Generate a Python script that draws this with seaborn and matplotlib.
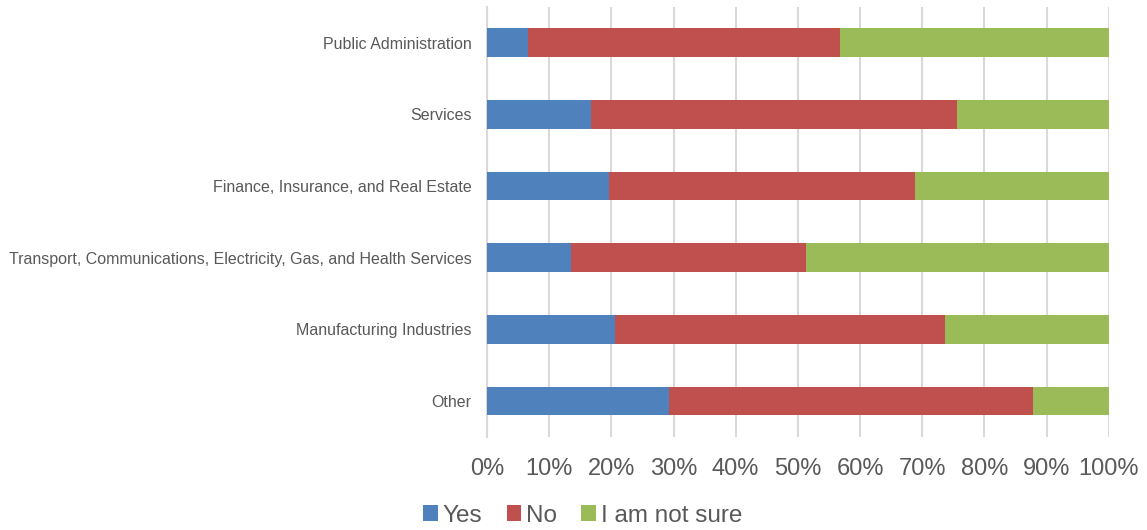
import matplotlib
matplotlib.use("Agg")
import matplotlib.pyplot as plt
import seaborn as sns
import pandas as pd
import numpy as np
from matplotlib.patches import Patch

sectors = [
    "Public Administration",
    "Services",
    "Finance, Insurance, and Real Estate",
    "Transport, Communications, Electricity, Gas, and Health Services",
    "Manufacturing Industries",
    "Other",
]
yes = [6.6, 16.8, 19.6, 13.5, 20.6, 29.3]
no = [50.1, 58.8, 49.3, 37.8, 53.0, 58.6]
not_sure = [43.3, 24.4, 31.1, 48.7, 26.4, 12.1]

series_names = ["Yes", "No", "I am not sure"]
colors = ["#4F81BD", "#C0504D", "#9BBB59"]

df = pd.DataFrame({"sector": sectors, "Yes": yes, "No": no, "I am not sure": not_sure})
df["cum_yes"] = df["Yes"]
df["cum_no"] = df["Yes"] + df["No"]
df["cum_all"] = df["cum_no"] + df["I am not sure"]

sns.set_style("white")
plt.rcParams["font.family"] = ["Liberation Sans", "DejaVu Sans"]

fig = plt.figure(figsize=(11.47, 5.30), dpi=100)
ax = fig.add_axes([0.4246, 0.1755, 0.5420, 0.8113])

# stacked bars drawn back to front as cumulative totals
for col, color in zip(["cum_all", "cum_no", "cum_yes"], colors[::-1]):
    sns.barplot(data=df, x=col, y="sector", order=sectors, color=color,
                saturation=1, orient="h", width=0.4, ax=ax,
                edgecolor="none", zorder=3)

ax.set_xlim(0, 100)
ax.set_ylim(len(sectors) - 0.5, -0.5)
ax.set_xticks(np.arange(0, 101, 10))
ax.set_xticklabels([f"{v}%" for v in range(0, 101, 10)])
ax.xaxis.grid(True, color="#d9d9d9", linewidth=1.5, zorder=0)
ax.yaxis.grid(False)
ax.set_axisbelow(True)
for side in ["top", "right", "bottom"]:
    ax.spines[side].set_visible(False)
ax.spines["left"].set_color("#d9d9d9")
ax.spines["left"].set_linewidth(1.5)
ax.set_xlabel("")
ax.set_ylabel("")
ax.tick_params(axis="x", labelsize=17, colors="#595959", length=0, pad=15)
ax.tick_params(axis="y", labelsize=11.5, colors="#595959", length=0, pad=11)

handles = [Patch(facecolor=c, edgecolor="none") for c in colors]
leg = fig.legend(handles, series_names, loc="lower center", bbox_to_anchor=(0.508, -0.035),
                 ncol=3, frameon=False, fontsize=17.5, handlelength=0.6, handleheight=0.6,
                 handletextpad=0.2, columnspacing=1.0)
for t in leg.get_texts():
    t.set_color("#595959")

fig.savefig("out.png", dpi=100)
